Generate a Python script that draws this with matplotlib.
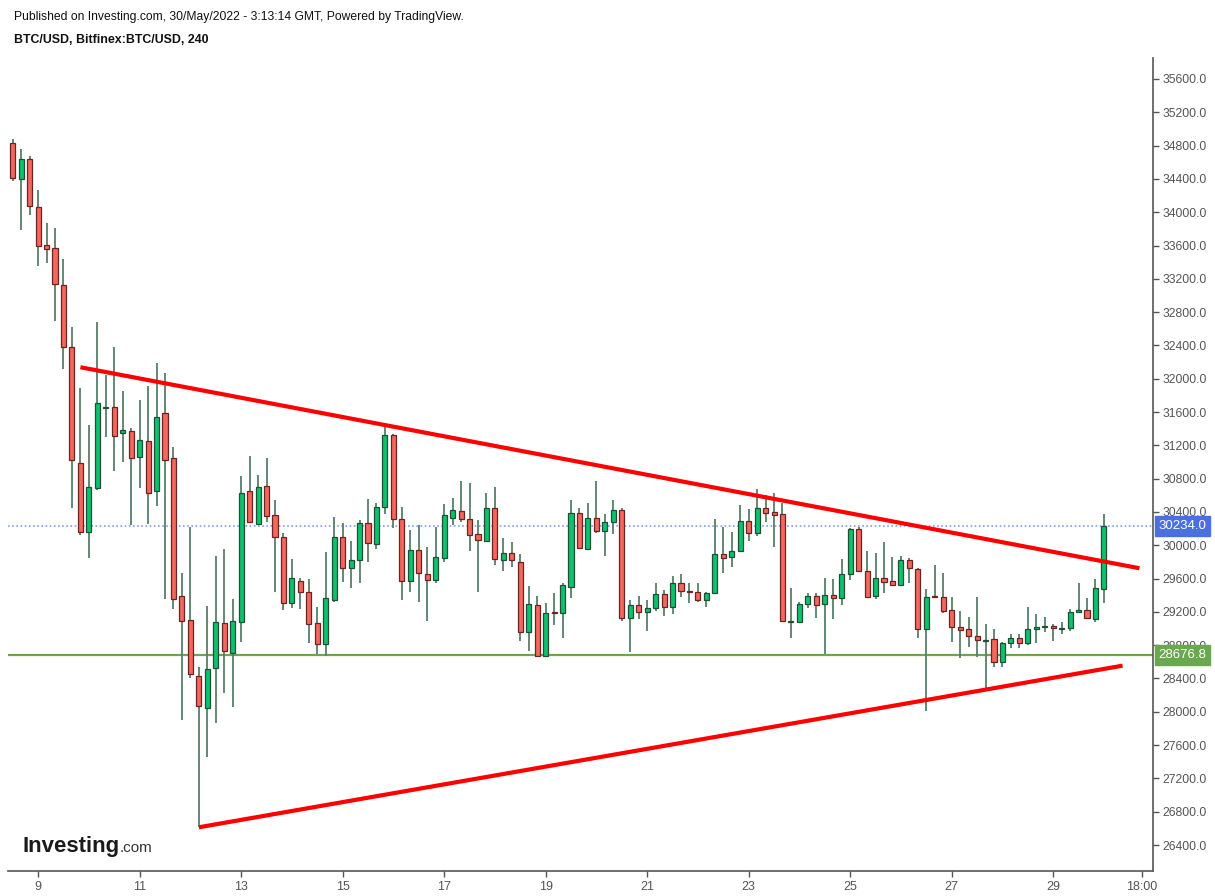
import numpy as np
import matplotlib.pyplot as plt

# 4h candles BTC/USD, index 0 = 9 May 00:00
opens = [34828, 34396, 34636, 34067, 33604, 33567, 33126, 32377, 30984, 30156,
         30692, 31650, 31657, 31345, 31373, 31064, 31253, 30652, 31585, 31045,
         29391, 29103, 28434, 28050, 28523, 29063, 28710, 29079, 30656, 30256,
         30712, 30364, 30103, 29303, 29575, 29443, 29063, 28815, 29343, 30103,
         29731, 29823, 30264, 30012, 30456, 31325, 30312, 29571, 29943, 29655,
         29583, 29851, 30331, 30412, 30312, 30132, 30055, 30444, 29823, 29904,
         29796, 28962, 29283, 28671, 29200, 29190, 29503, 30391, 29952, 30324,
         30175, 30283, 30420, 29123, 29283, 29202, 29243, 29415, 29263, 29544,
         29455, 29443, 29343, 29423, 29892, 29856, 29935, 30292, 30144, 30444,
         30396, 30372, 29075, 29082, 29295, 29391, 29295, 29403, 29363, 29652,
         30196, 29695, 29395, 29611, 29571, 29523, 29823, 29715, 28991, 29390,
         29376, 29223, 29022, 28991, 28911, 28853, 28875, 28602, 28823, 28890,
         28830, 28991, 29022, 29034, 28995, 29010, 29202, 29223, 29115, 29475]
highs = [34876, 34756, 34676, 34267, 33867, 33807, 33435, 32617, 31885, 31445,
         32678, 32045, 32378, 31853, 31405, 31745, 31917, 32186, 32066, 31177,
         29671, 30223, 28535, 29275, 29871, 29952, 29355, 30832, 31072, 30844,
         31045, 30544, 30144, 29832, 29603, 29591, 29263, 29923, 30343, 30264,
         30052, 30304, 30552, 30504, 31417, 31337, 30464, 30184, 30240, 29976,
         30216, 30492, 30564, 30772, 30744, 30304, 30625, 30696, 30084, 30036,
         29892, 29511, 29391, 29311, 29424, 29544, 30544, 30452, 30504, 30772,
         30376, 30544, 30452, 29343, 29391, 29343, 29551, 29463, 29631, 29655,
         29544, 29544, 29443, 30312, 30223, 30163, 30484, 30436, 30673, 30604,
         30625, 30512, 29483, 29323, 29431, 29424, 29603, 29591, 29832, 30210,
         30223, 29935, 29904, 30036, 29856, 29871, 29851, 29724, 29475, 29763,
         29671, 29376, 29211, 29142, 29376, 29051, 28995, 28842, 28935, 28935,
         29263, 29175, 29142, 29055, 29075, 29235, 29544, 29363, 29591, 30372]
lows = [34379, 33787, 33967, 33358, 33386, 32697, 32113, 30452, 30124, 29851,
        30664, 31297, 30896, 31004, 30244, 30692, 30252, 30476, 29359, 29238,
        27902, 28403, 26613, 27461, 27862, 28230, 28062, 28842, 30271, 30240,
        30283, 29443, 29223, 29243, 29235, 28830, 28695, 28674, 29323, 29563,
        29484, 29551, 29803, 29952, 30376, 30204, 29343, 29443, 29323, 29091,
        29543, 29803, 30244, 30283, 29935, 29443, 30050, 29763, 29695, 29736,
        28854, 28734, 28655, 28660, 29043, 28883, 29371, 29955, 29945, 30144,
        29871, 30136, 29091, 28722, 29120, 28971, 29211, 29155, 29171, 29383,
        29303, 29323, 29263, 29415, 29671, 29736, 29925, 30055, 30112, 30283,
        29976, 29082, 28883, 29070, 29243, 29123, 28695, 29111, 29283, 29583,
        29680, 29363, 29355, 29424, 29515, 29515, 29543, 28883, 28013, 29370,
        29183, 28842, 28643, 28782, 28655, 28283, 28542, 28542, 28763, 28770,
        28802, 28823, 28962, 28854, 28931, 28971, 29183, 29111, 29082, 29311]
closes = [34408, 34636, 34075, 33599, 33563, 33138, 32385, 31024, 30156, 30696,
          31705, 31665, 31313, 31385, 31052, 31265, 30625, 31544, 31024, 29359,
          29094, 28451, 28074, 28511, 29075, 28734, 29091, 30632, 30283, 30696,
          30352, 30096, 29303, 29603, 29435, 29055, 28815, 29363, 30103, 29731,
          29823, 30264, 30031, 30456, 31325, 30312, 29571, 29943, 29664, 29583,
          29856, 30364, 30424, 30312, 30124, 30064, 30444, 29835, 29904, 29823,
          28962, 29295, 28671, 29190, 29185, 29520, 30391, 29964, 30324, 30175,
          30283, 30420, 29123, 29283, 29202, 29243, 29415, 29255, 29544, 29455,
          29439, 29343, 29423, 29892, 29851, 29935, 30292, 30144, 30444, 30391,
          30364, 29094, 29090, 29295, 29391, 29283, 29403, 29363, 29652, 30196,
          29691, 29383, 29611, 29563, 29523, 29823, 29724, 28991, 29383, 29375,
          29214, 29015, 28983, 28911, 28863, 28865, 28602, 28823, 28890, 28830,
          28995, 29022, 29031, 29002, 29003, 29202, 29219, 29123, 29483, 30234]

day_ticks = [0, 12, 24, 36, 48, 60, 72, 84, 96, 108, 120, 130.5]
day_labels = ['9', '11', '13', '15', '17', '19', '21', '23', '25', '27', '29', '18:00']
y_ticks = np.arange(26400, 35601, 400)

last_price = 30234.0
support = 28676.8
upper_line = ([5.0, 130.2], [32138, 29724])
lower_line = ([19.0, 128.2], [26613, 28554])

o = np.array(opens)
h = np.array(highs)
l = np.array(lows)
c = np.array(closes)
x = np.arange(-3, -3 + len(o))
up = c >= o

fig = plt.figure(figsize=(12.15, 8.96), dpi=100)
plt.rcParams['font.family'] = ['Liberation Sans', 'DejaVu Sans']
ax = fig.add_axes([8 / 1215, 1 - 871 / 896, (1153 - 8) / 1215, (871 - 58) / 896])

ax.axhline(support, color='#6aa84f', lw=1.6, zorder=1)
ax.axhline(last_price, color='#7f9ef5', lw=1.2, ls=(0, (1, 1.5)), zorder=1)

ax.vlines(x, l, h, color='#587f6a', lw=1.3, zorder=2)
ax.bar(x[up], np.maximum(c[up] - o[up], 12), bottom=o[up], width=0.6,
       color='#0cc26c', edgecolor='#1d5036', lw=0.9, zorder=3)
ax.bar(x[~up], np.maximum(o[~up] - c[~up], 12), bottom=c[~up], width=0.6,
       color='#f4675c', edgecolor='#6a2424', lw=0.9, zorder=3)

ax.plot(*upper_line, color='#ff0000', lw=3, solid_capstyle='butt', zorder=4)
ax.plot(*lower_line, color='#ff0000', lw=3, solid_capstyle='butt', zorder=4)

ax.set_xlim(-3.56, 131.8)
ax.set_ylim(26088, 35852)

ax.yaxis.tick_right()
ax.set_yticks(y_ticks)
ax.set_yticklabels([f'{v:.1f}' for v in y_ticks])
ax.set_xticks(day_ticks)
ax.set_xticklabels(day_labels)
ax.tick_params(axis='both', colors='#555555', length=4, width=1)
ax.tick_params(axis='y', pad=3, labelsize=8.7)
ax.tick_params(axis='x', pad=3, labelsize=9)
for side in ['top', 'left']:
    ax.spines[side].set_visible(False)
for side in ['bottom', 'right']:
    ax.spines[side].set_color('#555555')
    ax.spines[side].set_linewidth(1.2)

for val, col in [(last_price, '#4a70e0'), (support, '#6aa84f')]:
    ax.annotate(f'{val:.1f}', xy=(1.0, val), xycoords=('axes fraction', 'data'),
                xytext=(4, 0), textcoords='offset points', ha='left', va='center',
                color='white', fontsize=9.5, zorder=10,
                bbox=dict(boxstyle='square,pad=0.3', fc=col, ec=col))

fig.text(14 / 1215, 1 - 17 / 896,
         'Published on Investing.com, 30/May/2022 - 3:13:14 GMT, Powered by TradingView.',
         fontsize=8.7, va='center', ha='left', color='#111111')
fig.text(14 / 1215, 1 - 40 / 896, 'BTC/USD, Bitfinex:BTC/USD, 240',
         fontsize=8.9, fontweight='bold', va='center', ha='left', color='#111111')

fig.text(22 / 1215, 1 - 852 / 896, 'Investing', fontsize=16, fontweight='bold',
         va='baseline', ha='left', color='#1a1a1a')
fig.text(120 / 1215, 1 - 852 / 896, '.com', fontsize=11, va='baseline', ha='left',
         color='#333333')

fig.savefig('out.png', dpi=100)
